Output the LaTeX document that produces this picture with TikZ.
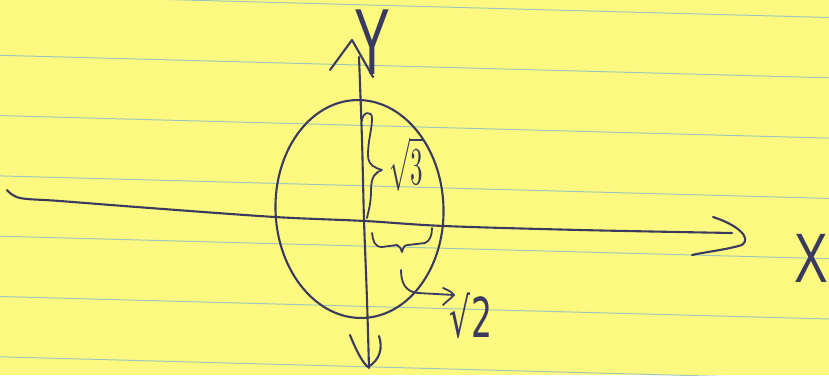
\documentclass[tikz,border=0pt]{standalone}
\usepackage{fontspec}
\usetikzlibrary{shapes.geometric}
\newfontfamily\handsans{Liberation Sans}
\newfontfamily\dvsans{DejaVu Sans}
\definecolor{paper}{RGB}{253,249,128}
\definecolor{rulecol}{RGB}{160,200,185}
\definecolor{ink}{RGB}{58,58,95}
\begin{document}
\begin{tikzpicture}[x=1pt,y=-1pt,
  pen/.style={draw=ink,line width=2.1pt,line cap=round,line join=round},
  ruled/.style={draw=rulecol,line width=1pt},
  lbl/.style={text=ink,inner sep=0pt,outer sep=0pt}]
\fill[paper] (0,0) rectangle (829,375);
\useasboundingbox (0,0) rectangle (829,375);
% ruled lines of the pad
\foreach \k in {0,...,6}
  \draw[ruled] (0,{-5+60.3*\k}) -- (829,{17.5+60.3*\k});
% axes
\coordinate (xs) at (7,190);
\coordinate (xe) at (732,233);
\coordinate (ys) at (359,57);
\coordinate (ye) at (369,368);
\draw[pen] plot[smooth,tension=0.55] coordinates {(xs) (20,198) (60,201) (150,208) (275,217) (365,221) (444,226) (580,230) (xe)};
\draw[pen] plot[smooth,tension=0.5] coordinates {(ys) (362,140) (364,220) (367,300) (ye)};
% x arrowhead
\draw[pen] (713,217) .. controls (738,225) and (752,238) .. (742,245) .. controls (725,250) and (705,252) .. (692,255);
% y arrowheads
\draw[pen] (330,70) -- (352,40) -- (373,77);
\draw[pen] (350,335) .. controls (356,350) and (362,362) .. (368,367) .. controls (380,360) and (383,348) .. (379,336);
% ellipse
\node[pen,ellipse,minimum width=168pt,minimum height=218pt,inner sep=0pt,rotate=2] (oval) at (359.5,209) {};
% axis labels
\node[lbl,font=\handsans\fontsize{94}{94}\selectfont,xscale=0.57] (ylab) at (372,42) {Y};
\node[lbl,font=\handsans\fontsize{70}{70}\selectfont,xscale=0.72] (xlab) at (811,258) {X};
% brace for sqrt 3
\coordinate (b3tip) at (382,170);
\draw[pen,line width=1.8pt] (362,121) .. controls (362,112) and (372,110) .. (372,118)
  .. controls (372,130) and (368,140) .. (368,155)
  .. controls (368,166) and (376,168) .. (b3tip)
  .. controls (376,172) and (371,176) .. (371,190)
  .. controls (371,205) and (368,212) .. (367,218);
\node[lbl,xscale=2.5,yscale=5.3] (s3) at (406,164) {$\sqrt{3}$};
% brace for sqrt 2
\coordinate (b2tip) at (402,252);
\draw[pen,line width=1.8pt] (372,233) .. controls (373,240) and (374,247) .. (382,247)
  -- (397,245) .. controls (400,246) and (401,249) .. (b2tip)
  .. controls (403,248) and (404,245) .. (408,245)
  -- (425,243) .. controls (430,241) and (432,235) .. (432,228);
% arrow to sqrt 2
\coordinate (a2s) at (401,270);
\coordinate (a2e) at (454,295);
\draw[pen,line width=1.8pt] (a2s) .. controls (401,282) and (405,292) .. (418,293) -- (a2e);
\draw[pen,line width=1.8pt] (443,288) .. controls (448,290) and (452,292) .. (a2e) .. controls (450,299) and (446,302) .. (443,305);
\node[lbl,font=\dvsans\fontsize{55}{55}\selectfont,xscale=0.6] (s2) at (471,316) {√2};
\end{tikzpicture}
\end{document}
